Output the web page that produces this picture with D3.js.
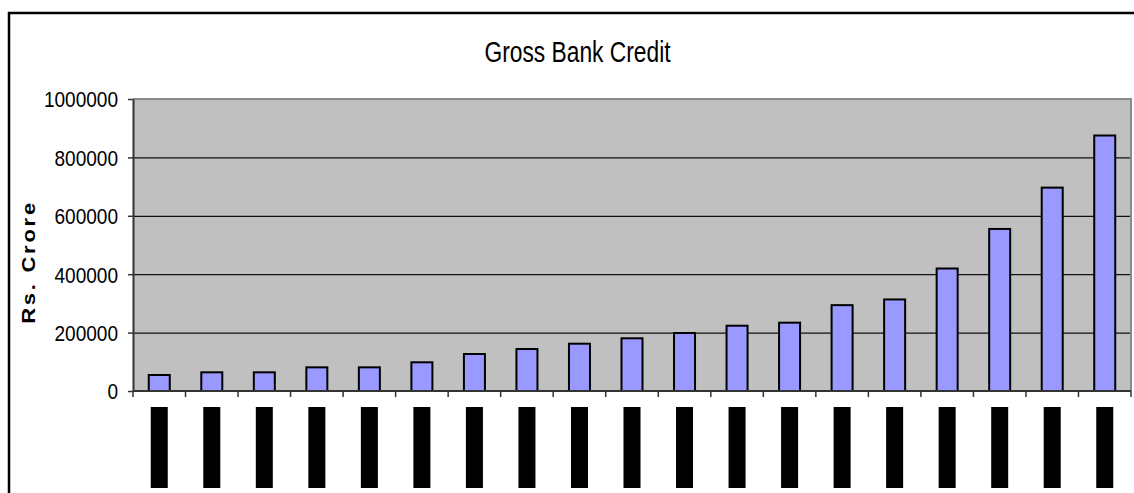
<!DOCTYPE html>
<html>
<head>
<meta charset="utf-8">
<script src="https://cdn.jsdelivr.net/npm/d3@7"></script>
<style>
  html, body { margin: 0; padding: 0; background: #fff; }
  svg { display: block; font-family: "Liberation Sans", Arial, sans-serif; }
</style>
</head>
<body>
<svg id="chart" width="1134" height="493"></svg>
<script>
// Gross bank credit, Rs. crore, by year
const categories = [
  "1985-86", "1986-87", "1987-88", "1988-89", "1989-90", "1990-91", "1991-92",
  "1992-93", "1993-94", "1994-95", "1995-96", "1996-97", "1997-98", "1998-99",
  "1999-00", "2000-01", "2001-02", "2002-03", "2003-04"
];
const credit = [
  54800, 64000, 64000, 81000, 81000, 98300, 126700,
  143800, 162000, 180500, 198600, 223600, 234000, 294000,
  313500, 419500, 555000, 696500, 875000
];
const yTicks = [0, 200000, 400000, 600000, 800000, 1000000];
const chartTitle = "Gross Bank Credit";
const yTitle = "Rs. Crore";

const svg = d3.select("#chart");
const plot = { left: 133, right: 1131, top: 99, bottom: 391 };

// outer chart frame (runs past the right and bottom edges)
svg.append("rect")
  .attr("x", 9).attr("y", 13)
  .attr("width", 1200).attr("height", 600)
  .attr("fill", "#fff").attr("stroke", "#000").attr("stroke-width", 2.5);

const y = d3.scaleLinear().domain([0, 1000000]).range([plot.bottom, plot.top]);
const xCat = d3.scaleBand().domain(categories).range([plot.left, plot.right]);
const xBar = d3.scaleBand().domain(categories).range([plot.left, plot.right])
  .paddingInner(0.6).paddingOuter(0.3);

// plot area
svg.append("rect")
  .attr("x", plot.left).attr("y", plot.top)
  .attr("width", plot.right - plot.left).attr("height", plot.bottom - plot.top)
  .attr("fill", "#c0c0c0");

// horizontal gridlines
svg.append("g")
  .attr("transform", `translate(${plot.left},0)`)
  .call(d3.axisLeft(y).tickValues(yTicks.filter(v => v > 0 && v < 1000000))
    .tickSize(-(plot.right - plot.left)).tickFormat(""))
  .call(g => g.select(".domain").remove())
  .call(g => g.selectAll("line").attr("stroke", "#111").attr("stroke-width", 1.2));

// plot area border (top / right)
svg.append("path")
  .attr("d", `M${plot.left},${plot.top}H${plot.right}V${plot.bottom}`)
  .attr("fill", "none").attr("stroke", "#8a8a8a").attr("stroke-width", 2);

// bars
svg.append("g").selectAll("rect")
  .data(categories)
  .join("rect")
  .attr("x", d => xBar(d))
  .attr("width", xBar.bandwidth())
  .attr("y", (d, i) => y(credit[i]))
  .attr("height", (d, i) => y(0) - y(credit[i]))
  .attr("fill", "#9999ff")
  .attr("stroke", "#000")
  .attr("stroke-width", 2);

// y axis
const tickScale = 0.866;
svg.append("g")
  .attr("transform", `translate(${plot.left},0)`)
  .call(d3.axisLeft(y).tickValues(yTicks).tickSizeInner(5).tickSizeOuter(0)
    .tickFormat(d3.format("d")))
  .call(g => g.select(".domain").attr("stroke", "#333").attr("stroke-width", 2))
  .call(g => g.selectAll(".tick line").attr("stroke", "#333").attr("stroke-width", 1.5))
  .call(g => g.selectAll(".tick text")
    .attr("x", -15 / tickScale)
    .attr("dy", "0.36em")
    .attr("transform", `scale(${tickScale},1)`)
    .attr("font-size", 22)
    .attr("font-family", "'Liberation Sans', Arial, sans-serif")
    .attr("fill", "#000"));

// x axis: ticks at category boundaries
const xAxis = svg.append("g");
xAxis.append("line")
  .attr("x1", plot.left).attr("x2", plot.right)
  .attr("y1", plot.bottom).attr("y2", plot.bottom)
  .attr("stroke", "#333").attr("stroke-width", 2);
xAxis.selectAll("line.tick")
  .data(categories.concat([null]))
  .join("line")
  .attr("class", "tick")
  .attr("x1", d => d ? xCat(d) : plot.right)
  .attr("x2", d => d ? xCat(d) : plot.right)
  .attr("y1", plot.bottom).attr("y2", plot.bottom + 6)
  .attr("stroke", "#333").attr("stroke-width", 1.5);

// category labels, rotated, printed as solid blocks
const labels = svg.append("g").selectAll("g")
  .data(categories)
  .join("g")
  .attr("transform", d => `translate(${xCat(d) + xCat.bandwidth() / 2},407)`);
labels.append("rect")
  .attr("x", -8.5).attr("y", 0)
  .attr("width", 17).attr("height", 81)
  .attr("fill", "#000");
labels.append("text")
  .attr("transform", "translate(6,40.5) rotate(-90)")
  .attr("text-anchor", "middle")
  .attr("font-size", 16)
  .attr("fill", "#000")
  .text(d => d);

// title
svg.append("text")
  .attr("transform", "translate(577.5,62) scale(0.76,1)")
  .attr("text-anchor", "middle")
  .attr("font-size", 30)
  .attr("fill", "#000")
  .text(chartTitle);

// y axis title
svg.append("text")
  .attr("transform", "translate(34.5,262) scale(0.83,1) rotate(-90)")
  .attr("text-anchor", "middle")
  .attr("font-size", 22)
  .attr("font-weight", "bold")
  .attr("letter-spacing", 2.75)
  .attr("fill", "#000")
  .text(yTitle);
</script>
</body>
</html>
